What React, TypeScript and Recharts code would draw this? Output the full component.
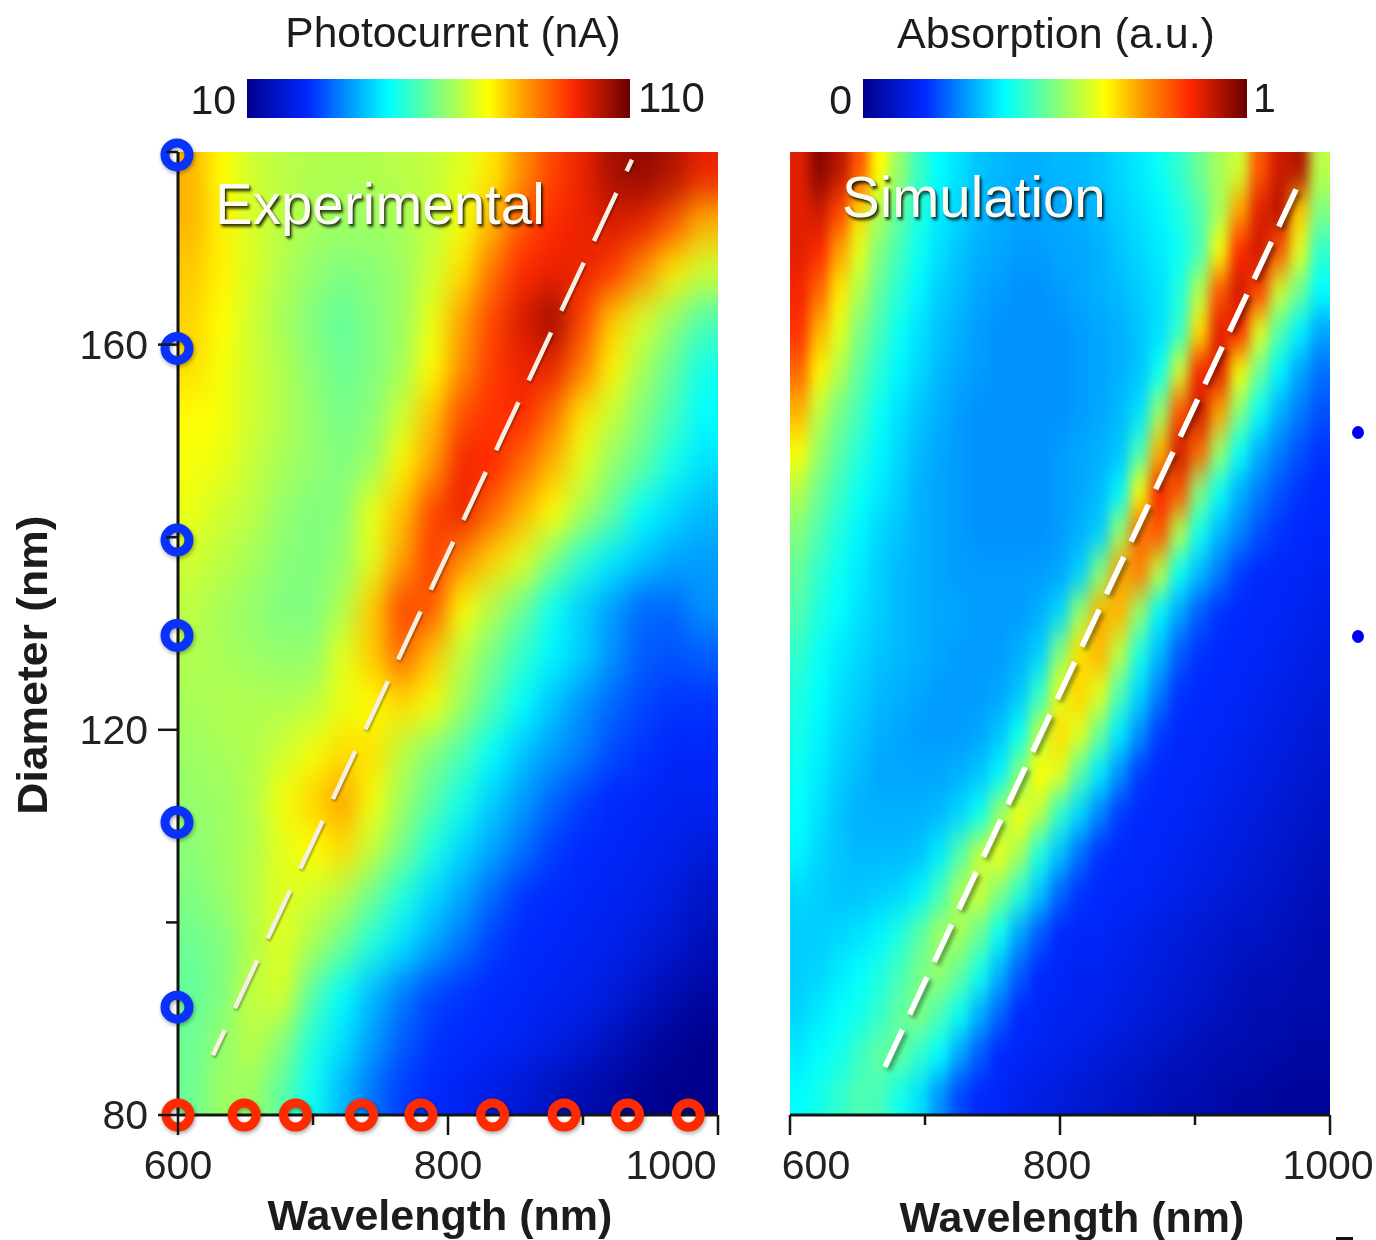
import React from "react";
import { BarChart, Bar, ScatterChart, Scatter, XAxis, YAxis } from "recharts";

// shared axes
const xTicks = [600, 700, 800, 900, 1000];
const xMajor = [600, 800, 1000];
const yTicks = [80, 100, 120, 140, 160, 180];
const yMajor = [80, 120, 160];

// jet colour scale
const jetStops: [number, string][] = [
  [0, "#00008c"],
  [0.16, "#0028ff"],
  [0.27, "#009cff"],
  [0.37, "#00ffff"],
  [0.5, "#80ff80"],
  [0.63, "#ffff00"],
  [0.72, "#ffa000"],
  [0.85, "#ff2800"],
  [1, "#6a0000"],
];

// photocurrent in nA, rows from 180 nm diameter down to 80 nm, columns from 600 to 1000 nm
const expRows: number[][] = [
  [80, 73, 68, 66, 65, 65, 65, 66, 67, 70, 75, 84, 92, 97, 104, 106, 103, 97],
  [80, 74, 69, 66, 64, 63, 63, 64, 67, 72, 80, 90, 95, 97, 99, 97, 90, 80],
  [78, 74, 69, 65, 62, 60, 61, 63, 68, 76, 87, 95, 97, 97, 93, 84, 75, 68],
  [77, 73, 68, 64, 60, 57, 60, 63, 71, 82, 92, 99, 105, 92, 78, 69, 62, 55],
  [76, 72, 68, 65, 61, 58, 60, 64, 73, 84, 93, 97, 97, 86, 74, 64, 57, 49],
  [73, 72, 68, 65, 62, 59, 61, 68, 79, 91, 94, 95, 87, 75, 67, 60, 54, 47],
  [72, 71, 67, 64, 62, 60, 63, 74, 82, 96, 95, 88, 80, 70, 62, 57, 49, 44],
  [71, 68, 66, 62, 60, 61, 71, 79, 92, 97, 88, 80, 73, 64, 57, 47, 43, 40],
  [68, 66, 64, 61, 60, 62, 70, 82, 93, 84, 77, 70, 60, 51, 45, 41, 38, 37],
  [66, 64, 62, 60, 60, 65, 78, 92, 90, 73, 65, 58, 48, 42, 37, 32, 32, 36],
  [65, 64, 63, 62, 62, 70, 78, 88, 78, 66, 59, 52, 46, 42, 36, 31, 30, 31],
  [64, 65, 65, 65, 66, 71, 73, 76, 72, 63, 55, 47, 41, 36, 32, 29, 27, 27],
  [63, 64, 65, 68, 72, 76, 76, 66, 60, 55, 47, 41, 37, 34, 29, 27, 25, 25],
  [62, 63, 65, 72, 77, 82, 72, 63, 56, 49, 42, 37, 32, 28, 26, 25, 24, 24],
  [61, 63, 65, 70, 73, 76, 67, 59, 50, 43, 38, 33, 28, 26, 25, 24, 23, 21],
  [60, 62, 66, 70, 68, 65, 58, 50, 43, 38, 32, 27, 26, 25, 24, 23, 21, 18],
  [58, 60, 65, 70, 64, 58, 50, 44, 38, 33, 28, 26, 25, 24, 23, 21, 19, 16],
  [57, 60, 67, 69, 56, 47, 40, 34, 29, 27, 26, 25, 24, 23, 21, 18, 15, 13],
  [58, 62, 66, 61, 50, 44, 37, 31, 27, 26, 25, 24, 22, 20, 17, 14, 12, 10],
  [58, 63, 63, 56, 48, 40, 33, 28, 26, 24, 22, 20, 17, 15, 13, 11, 10, 10],
];

// absorption 0..1, same orientation
const simRows: number[][] = [
  [.88,.97,.92,.80,.63,.52,.43,.37,.34,.31,.30,.29,.29,.30,.30,.31,.33,.35,.38,.42,.48,.54,.58,.80,.90,.93,.56],
  [.88,.90,.82,.67,.55,.47,.40,.35,.33,.30,.29,.28,.28,.28,.29,.30,.32,.34,.36,.40,.45,.54,.72,.88,.92,.68,.50],
  [.88,.85,.72,.60,.50,.44,.38,.34,.31,.29,.28,.27,.27,.28,.28,.29,.31,.33,.35,.38,.44,.62,.85,.90,.80,.60,.42],
  [.86,.78,.65,.55,.47,.41,.36,.32,.30,.28,.27,.26,.26,.27,.28,.29,.30,.32,.34,.40,.55,.80,.90,.82,.58,.48,.37],
  [.84,.70,.60,.50,.44,.38,.34,.31,.29,.27,.26,.26,.26,.26,.27,.28,.29,.31,.34,.42,.66,.88,.85,.60,.45,.36,.28],
  [.78,.64,.55,.47,.41,.36,.33,.30,.28,.27,.26,.26,.26,.26,.27,.28,.29,.31,.38,.58,.86,.88,.62,.48,.36,.28,.23],
  [.70,.56,.49,.44,.38,.34,.31,.29,.27,.26,.26,.26,.26,.26,.27,.28,.30,.34,.52,.80,.90,.72,.50,.38,.29,.24,.20],
  [.62,.52,.46,.41,.36,.33,.30,.28,.27,.26,.26,.26,.26,.27,.28,.29,.31,.44,.70,.90,.78,.52,.38,.29,.24,.20,.17],
  [.55,.48,.43,.38,.35,.32,.29,.28,.27,.26,.26,.26,.26,.27,.28,.30,.36,.62,.86,.80,.50,.38,.29,.24,.20,.17,.16],
  [.50,.45,.40,.36,.33,.31,.29,.28,.27,.26,.26,.26,.26,.27,.29,.32,.52,.78,.80,.55,.39,.30,.25,.20,.17,.16,.15],
  [.47,.42,.38,.35,.32,.30,.29,.28,.27,.27,.27,.27,.27,.28,.32,.50,.72,.75,.56,.38,.30,.24,.18,.16,.15,.15,.14],
  [.45,.40,.37,.34,.32,.30,.29,.28,.28,.27,.27,.27,.29,.33,.52,.70,.70,.52,.36,.28,.21,.17,.16,.15,.15,.14,.13],
  [.42,.38,.35,.33,.31,.30,.29,.28,.27,.27,.27,.29,.32,.50,.66,.70,.56,.40,.30,.21,.17,.16,.15,.15,.14,.13,.12],
  [.40,.37,.34,.32,.30,.29,.28,.27,.27,.27,.28,.31,.42,.60,.67,.60,.45,.33,.24,.17,.16,.15,.15,.14,.13,.12,.11],
  [.39,.36,.33,.31,.29,.28,.27,.27,.27,.28,.31,.38,.55,.66,.60,.48,.35,.26,.18,.16,.15,.15,.14,.13,.12,.11,.10],
  [.38,.35,.32,.30,.28,.28,.28,.28,.29,.31,.36,.50,.63,.60,.46,.35,.26,.18,.16,.15,.15,.14,.13,.12,.11,.10,.09],
  [.37,.34,.31,.29,.29,.29,.29,.30,.33,.38,.52,.62,.56,.42,.33,.25,.18,.16,.15,.15,.14,.13,.12,.11,.10,.09,.08],
  [.36,.33,.31,.30,.30,.30,.31,.35,.45,.56,.61,.54,.40,.31,.23,.17,.16,.15,.15,.14,.13,.12,.11,.10,.09,.08,.07],
  [.33,.32,.31,.31,.32,.33,.36,.44,.54,.58,.50,.41,.31,.22,.17,.16,.15,.15,.14,.13,.12,.11,.10,.09,.08,.07,.06],
  [.32,.32,.33,.34,.36,.40,.46,.53,.54,.48,.38,.28,.21,.16,.15,.15,.14,.13,.12,.11,.10,.09,.08,.08,.07,.06,.05],
  [.32,.33,.35,.37,.40,.44,.49,.52,.47,.39,.29,.21,.16,.15,.14,.14,.13,.12,.11,.10,.09,.08,.07,.06,.06,.05,.05],
  [.33,.35,.37,.39,.42,.47,.50,.45,.38,.29,.22,.16,.15,.14,.14,.13,.12,.11,.10,.09,.08,.07,.06,.05,.05,.04,.04],
  [.35,.37,.39,.43,.47,.47,.42,.37,.28,.21,.16,.15,.14,.13,.12,.11,.10,.09,.08,.07,.06,.05,.05,.04,.04,.03,.03],
  [.37,.39,.42,.45,.44,.39,.34,.26,.19,.16,.15,.13,.12,.11,.10,.09,.08,.07,.06,.05,.05,.04,.03,.03,.02,.02,.02],
];

// scan positions marked on the axes of the experimental panel
const markedDiameters = [179.7, 159.6, 139.7, 129.8, 110.4, 91.2];
const markedWavelengths = [600, 649, 687, 736, 780, 833, 886, 933, 978];

// dashed resonance lines: [wavelength, diameter]
const expLine: [number, number][] = [[625.9, 86.2], [936.3, 179.2]];
const simLine: [number, number][] = [[670.4, 85], [975.5, 176.3]];

function hexToRgb(hex: string) {
  return [1, 3, 5].map((i) => parseInt(hex.slice(i, i + 2), 16));
}

function jetColor(t: number) {
  const v = Math.min(1, Math.max(0, t));
  for (let i = 1; i < jetStops.length; i++) {
    const [p0, c0] = jetStops[i - 1];
    const [p1, c1] = jetStops[i];
    if (v <= p1) {
      const k = (v - p0) / (p1 - p0);
      const a = hexToRgb(c0);
      const b = hexToRgb(c1);
      return `rgb(${a.map((c, n) => Math.round(c + (b[n] - c) * k)).join(",")})`;
    }
  }
  return jetStops[jetStops.length - 1][1];
}

function buildCells(rows: number[][], min: number, max: number) {
  const nRows = rows.length;
  const nCols = rows[0].length;
  return rows.flatMap((row, j) =>
    row.map((value, i) => ({
      wavelength: 600 + ((i + 0.5) * 400) / nCols,
      diameter: 180 - ((j + 0.5) * 100) / nRows,
      color: jetColor((value - min) / (max - min)),
    }))
  );
}

const AXIS = "#151515";
const PLOT_W = 540;
const PLOT_H = 963;
const PLOT_TOP = 152;
const CHART_H = 1240;
const FONT = '"Liberation Sans", Arial, sans-serif';

function XTick({ x, y, payload, labelShift }: any) {
  const major = xMajor.includes(payload.value);
  return (
    <g>
      <line x1={x} x2={x} y1={y} y2={y + (major ? 20 : 10)} stroke={AXIS} strokeWidth={2.5} />
      {major && (
        <text x={x + (labelShift[payload.value] || 0)} y={y + 64} textAnchor="middle" fontSize={41} fontFamily={FONT} fill="#222">
          {payload.value}
        </text>
      )}
    </g>
  );
}

function YTick({ x, y, payload }: any) {
  const major = yMajor.includes(payload.value);
  return (
    <g>
      <line x1={x} x2={x - (major ? 20 : 12)} y1={y} y2={y} stroke={AXIS} strokeWidth={2.5} />
      {major && (
        <text x={x - 30} y={y + 14} textAnchor="end" fontSize={41} fontFamily={FONT} fill="#222">
          {payload.value}
        </text>
      )}
    </g>
  );
}

function Ring({ cx, cy, color }: any) {
  return <circle className="ring" cx={cx} cy={cy} r={12} fill="none" stroke={color} strokeWidth={9} />;
}

interface PanelProps {
  left: number;
  width: number;
  plotLeft: number;
  rows: number[][];
  min: number;
  max: number;
  id: string;
  line: [number, number][];
  labelShift: Record<number, number>;
  showYAxis?: boolean;
}

function HeatPanel({ left, width, plotLeft, rows, min, max, id, line, labelShift, showYAxis, children }: React.PropsWithChildren<PanelProps>) {
  const cells = buildCells(rows, min, max);
  const cellW = PLOT_W / rows[0].length + 1.5;
  const cellH = PLOT_H / rows.length + 1.5;
  const lineData = line.map(([wavelength, diameter]) => ({ wavelength, diameter }));
  return (
    <div style={{ position: "absolute", left, top: 0 }}>
      <ScatterChart
        width={width}
        height={CHART_H}
        margin={{ left: plotLeft - 100, right: width - plotLeft - PLOT_W, top: PLOT_TOP, bottom: CHART_H - PLOT_TOP - PLOT_H - 90 }}
      >
        <defs>
          <clipPath id={`clip-${id}`}>
            <rect x={plotLeft} y={PLOT_TOP} width={PLOT_W} height={PLOT_H} />
          </clipPath>
        </defs>
        <XAxis
          type="number"
          dataKey="wavelength"
          domain={[600, 1000]}
          ticks={xTicks}
          interval={0}
          height={90}
          tickSize={0}
          tickMargin={0}
          tickLine={false}
          axisLine={{ stroke: AXIS, strokeWidth: 3 }}
          tick={(p: any) => <XTick {...p} labelShift={labelShift} />}
        />
        <YAxis
          type="number"
          dataKey="diameter"
          domain={[80, 180]}
          ticks={yTicks}
          interval={0}
          width={100}
          tickSize={0}
          tickMargin={0}
          tickLine={false}
          axisLine={showYAxis ? { stroke: AXIS, strokeWidth: 3 } : false}
          tick={showYAxis ? (p: any) => <YTick {...p} /> : false}
        />
        <Scatter
          data={cells}
          className={`heat-${id}`}
          zIndex={-1}
          isAnimationActive={false}
          shape={(p: any) => (
            <rect x={p.cx - cellW / 2} y={p.cy - cellH / 2} width={cellW} height={cellH} fill={p.payload.color} />
          )}
        />
        <Scatter
          data={lineData}
          className={`dash-${id}`}
          isAnimationActive={false}
          line={
            id === "exp"
              ? { stroke: "#f6efe2", strokeWidth: 4.5, strokeDasharray: "53 24", strokeDashoffset: 25 }
              : { stroke: "#ffffff", strokeWidth: 5.5, strokeDasharray: "41 17" }
          }
          shape={() => null}
        />
        {children}
      </ScatterChart>
    </div>
  );
}

function ColorBar({ left, width, min, max, name }: { left: number; width: number; min: number; max: number; name: string }) {
  return (
    <div style={{ position: "absolute", left, top: 79 }}>
      <BarChart width={width} height={39} layout="vertical" data={[{ name, value: max }]} margin={{ top: 0, right: 0, bottom: 0, left: 0 }} barCategoryGap={0}>
        <XAxis type="number" domain={[min, max]} hide />
        <YAxis type="category" dataKey="name" hide />
        <Bar dataKey="value" fill="url(#jetBar)" isAnimationActive={false} />
      </BarChart>
    </div>
  );
}

function Label({ children, x, y, size = 42, bold, anchor = "start", style }: any) {
  const shift = anchor === "middle" ? "-50%" : anchor === "end" ? "-100%" : "0";
  return (
    <div
      style={{
        position: "absolute",
        left: x,
        top: y,
        transform: `translate(${shift}, -50%)`,
        fontFamily: FONT,
        fontSize: size,
        fontWeight: bold ? 700 : 400,
        color: "#1c1c1c",
        whiteSpace: "nowrap",
        lineHeight: 1,
        ...style,
      }}
    >
      {children}
    </div>
  );
}

const titleShadow = { color: "#fbfbf2", textShadow: "2px 3px 3px rgba(0,0,0,.7), 1px 1px 1px rgba(0,0,0,.4)" };

export default function App() {
  return (
    <div style={{ position: "absolute", left: 0, top: 0, width: 1376, height: 1240, background: "#fff", overflow: "hidden", filter: "blur(0.6px)" }}>
      <style>{`
        .heat-exp { filter: url(#smoothExp); clip-path: url(#clip-exp); }
        .heat-sim { filter: url(#smoothSim); clip-path: url(#clip-sim); }
        .dash-exp path { filter: drop-shadow(1px 2px 1px rgba(0,0,0,.35)); }
        .dash-sim path { filter: drop-shadow(3px 3px 2px rgba(0,0,0,.4)); }
        .ring { filter: drop-shadow(1px 2px 2px rgba(0,0,0,.35)); }
      `}</style>
      <svg width={0} height={0} style={{ position: "absolute" }}>
        <defs>
          <linearGradient id="jetBar" x1="0" x2="1" y1="0" y2="0">
            {jetStops.map(([p, c]) => (
              <stop key={p} offset={p} stopColor={c} />
            ))}
          </linearGradient>
          <filter id="smoothExp" x="-5%" y="-5%" width="110%" height="110%" colorInterpolationFilters="sRGB">
            <feGaussianBlur stdDeviation="11 19" />
            <feComponentTransfer>
              <feFuncA type="linear" slope="1000" />
            </feComponentTransfer>
          </filter>
          <filter id="smoothSim" x="-5%" y="-5%" width="110%" height="110%" colorInterpolationFilters="sRGB">
            <feGaussianBlur stdDeviation="6 15" />
            <feComponentTransfer>
              <feFuncA type="linear" slope="1000" />
            </feComponentTransfer>
          </filter>
        </defs>
      </svg>

      <HeatPanel
        id="exp"
        left={0}
        width={740}
        plotLeft={178}
        rows={expRows}
        min={10}
        max={110}
        line={expLine}
        labelShift={{ 1000: -47 }}
        showYAxis
      >
        <Scatter
          data={markedDiameters.map((diameter) => ({ wavelength: 600, diameter }))}
          isAnimationActive={false}
          shape={(p: any) => <Ring cx={p.cx - 1} cy={p.cy} color="#0a32ff" />}
        />
        <Scatter
          data={markedWavelengths.map((wavelength) => ({ wavelength, diameter: 80 }))}
          isAnimationActive={false}
          shape={(p: any) => <Ring cx={p.cx} cy={p.cy} color="#ff2a00" />}
        />
      </HeatPanel>

      <HeatPanel
        id="sim"
        left={770}
        width={606}
        plotLeft={20}
        rows={simRows}
        min={0}
        max={1}
        line={simLine}
        labelShift={{ 600: 26, 800: -3, 1000: -2 }}
      />

      <ColorBar left={247} width={383} min={10} max={110} name="Photocurrent" />
      <ColorBar left={863} width={384} min={0} max={1} name="Absorption" />

      <Label x={453} y={33} size={42.5} anchor="middle">Photocurrent (nA)</Label>
      <Label x={1056} y={33} size={43} anchor="middle">Absorption (a.u.)</Label>
      <Label x={236} y={100} size={41} anchor="end">10</Label>
      <Label x={638} y={98}>110</Label>
      <Label x={852} y={100} size={41} anchor="end">0</Label>
      <Label x={1253} y={98} size={41}>1</Label>

      <Label x={215} y={205} size={56.5} style={titleShadow}>Experimental</Label>
      <Label x={842} y={198} size={56.5} style={titleShadow}>Simulation</Label>

      <Label x={440} y={1215} size={43} bold anchor="middle">Wavelength (nm)</Label>
      <Label x={1072} y={1217} size={43} bold anchor="middle">Wavelength (nm)</Label>
      <Label x={33} y={665} size={42} bold anchor="middle" style={{ transform: "translate(-50%, -50%) rotate(-90deg) scale(1.06, 1)" }}>
        Diameter (nm)
      </Label>

      <div style={{ position: "absolute", left: 1352, top: 426, width: 12, height: 13, borderRadius: "50%", background: "#0000f0" }} />
      <div style={{ position: "absolute", left: 1352, top: 630, width: 12, height: 13, borderRadius: "50%", background: "#0000f0" }} />
      <div style={{ position: "absolute", left: 1336, top: 1237, width: 17, height: 3, background: "#111" }} />
    </div>
  );
}
